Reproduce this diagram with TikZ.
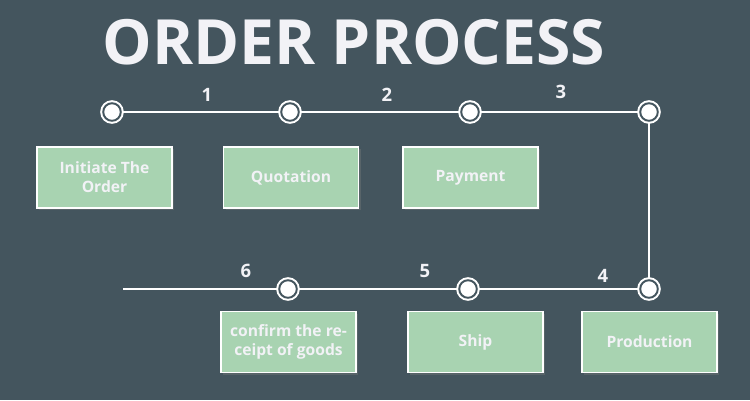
\documentclass[tikz,border=0pt]{standalone}
\usepackage{fontspec}
\setmainfont{Open Sans}
\usepackage{xcolor}
\usepackage{tikz}
\usetikzlibrary{positioning,shadows}
\definecolor{bgc}{HTML}{44555E}
\definecolor{boxc}{HTML}{A8D3B1}
\definecolor{txtc}{HTML}{F2F2F6}
\begin{document}
\begin{tikzpicture}[x=0.02cm,y=-0.02cm,font=\bfseries,
  stop/.style={circle,draw=white,line width=1.15pt,double=bgc,double distance=1.1pt,fill=white,minimum size=10pt,inner sep=0pt},
  stepbox/.style={draw=white,line width=0.6pt,fill=boxc,text=txtc,minimum width=2.7cm,minimum height=1.22cm,align=center,font=\bfseries\fontsize{8.9}{10.8}\selectfont,
    drop shadow={opacity=0.35,shadow xshift=1.2pt,shadow yshift=-1.2pt}},
  num/.style={text=txtc,font=\bfseries\fontsize{10.5}{12}\selectfont},
  line/.style={draw=white,line width=1.1pt}]
  \useasboundingbox (0,0) rectangle (750,400);
  \fill[bgc] (0,0) rectangle (750,400);
  \node[text=txtc,font=\bfseries\fontsize{35.5}{42}\selectfont] (title) at (354,42) {ORDER PROCESS};
  % stations
  \node[stop] (s1) at (112,112) {};
  \node[stop] (s2) at (290,112) {};
  \node[stop] (s3) at (470,112) {};
  \node[stop] (s4) at (649,112) {};
  \node[stop] (s5) at (649,289) {};
  \node[stop] (s6) at (468,289) {};
  \node[stop] (s7) at (288,289) {};
  \coordinate (e) at (123,289);
  \draw[line] (s1) -- (s2);
  \draw[line] (s2) -- (s3);
  \draw[line] (s3) -- (s4);
  \draw[line] (s4) -- (s5);
  \draw[line] (s5) -- (s6);
  \draw[line] (s6) -- (s7);
  \draw[line] (s7) -- (e);
  \node[num] (n1) at (207,95) {1};
  \node[num] (n2) at (387,95) {2};
  \node[num] (n3) at (561,92) {3};
  \node[num] (n4) at (603,276) {4};
  \node[num] (n5) at (425,271) {5};
  \node[num] (n6) at (246,271) {6};
  % steps
  \node[stepbox] (init) at (104.5,177.5) {Initiate The\\Order};
  \node[stepbox] (quote) at (291,177.5) {Quotation};
  \node[stepbox] (pay) at (470.5,177.5) {Payment};
  \node[stepbox] (prod) at (649.5,342) {Production};
  \node[stepbox] (ship) at (475.5,342) {Ship};
  \node[stepbox] (conf) at (288.5,342) {confirm the re-\\ceipt of goods};
\end{tikzpicture}
\end{document}
